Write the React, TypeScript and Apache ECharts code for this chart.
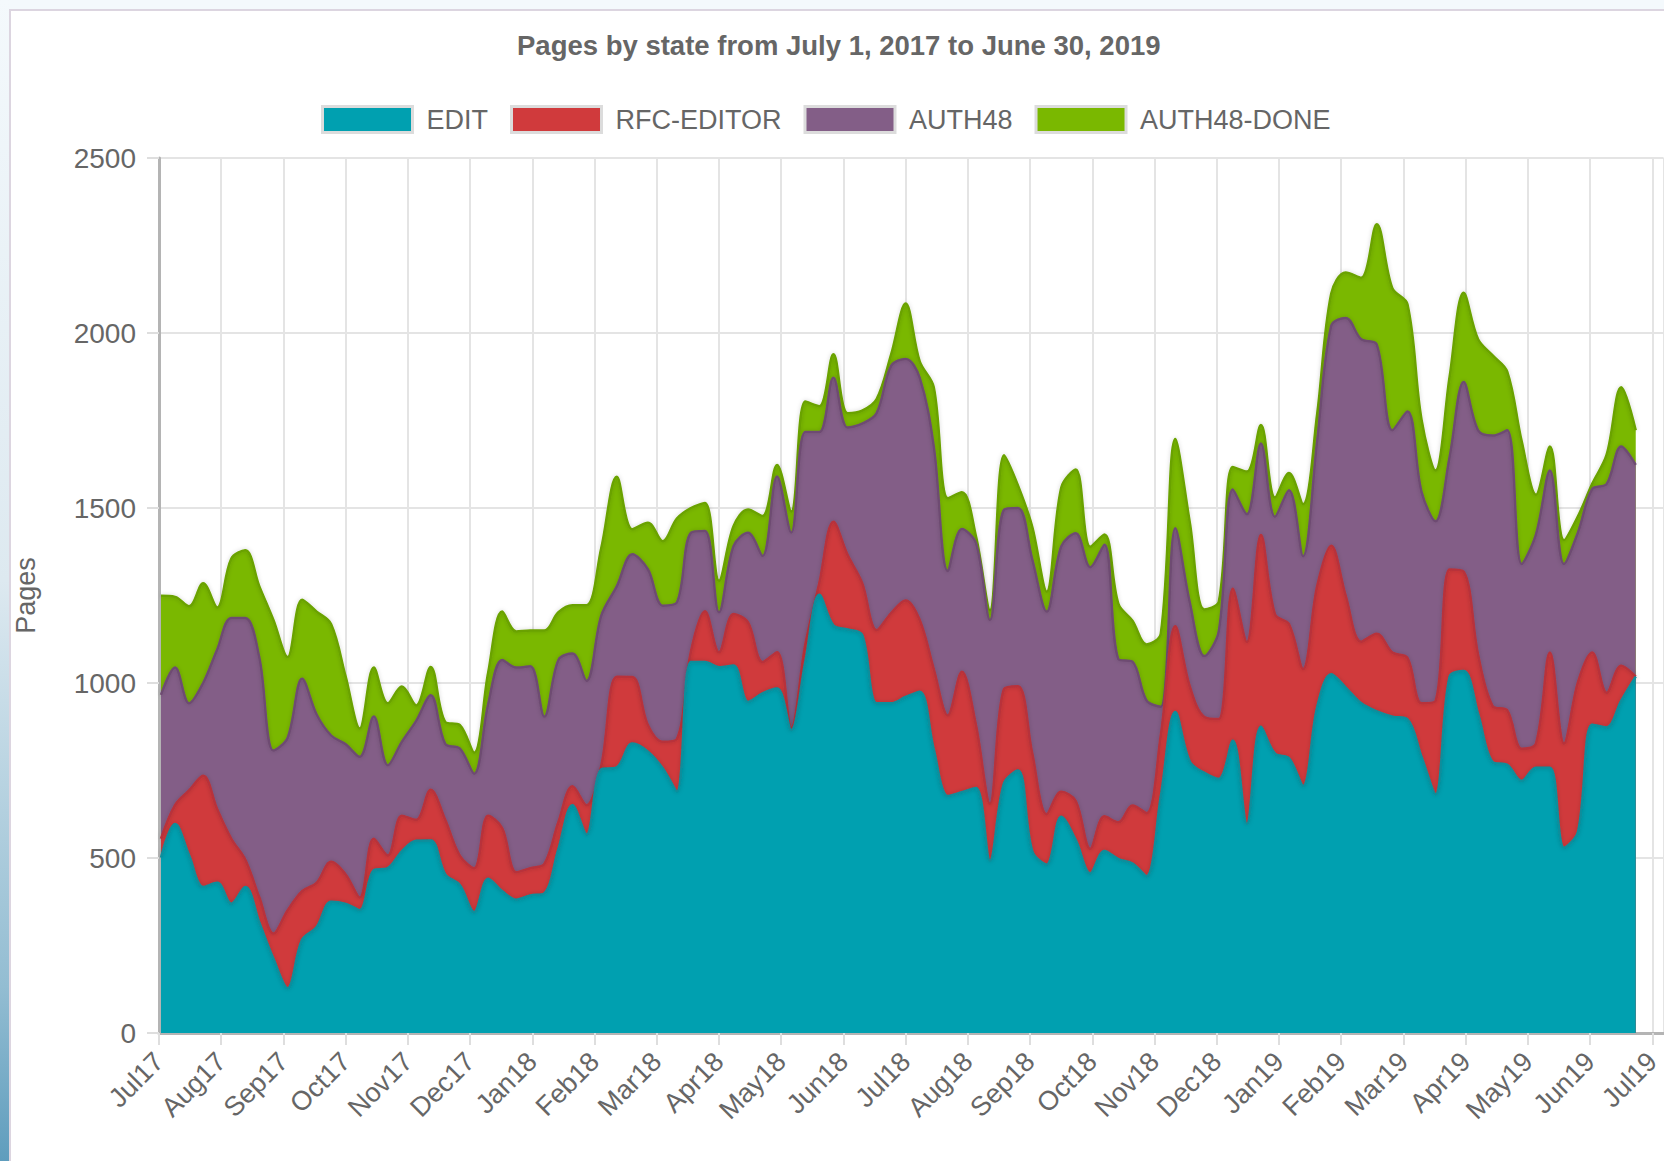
import React, { useEffect, useRef } from 'react';
import * as echarts from 'echarts';

// Month tick labels (one per month boundary)
const monthLabels = [
  'Jul17', 'Aug17', 'Sep17', 'Oct17', 'Nov17', 'Dec17', 'Jan18', 'Feb18', 'Mar18', 'Apr18', 'May18', 'Jun18',
  'Jul18', 'Aug18', 'Sep18', 'Oct18', 'Nov18', 'Dec18', 'Jan19', 'Feb19', 'Mar19', 'Apr19', 'May19', 'Jun19', 'Jul19',
];

// Weekly samples, first one on this date
const firstWeekUTC = [2017, 6, 2];

const edit = [
  501, 597, 507, 417, 429, 369, 417, 315, 212, 128,
  266, 302, 375, 369, 351, 465, 471, 519, 549, 550,
  453, 423, 345, 441, 405, 381, 393, 399, 525, 651,
  567, 753, 759, 827, 804, 756, 690, 1060, 1060, 1045,
  1050, 946, 970, 984, 865, 1060, 1252, 1164, 1153, 1137,
  942, 942, 960, 975, 810, 677, 688, 700, 492, 713,
  750, 520, 481, 618, 551, 456, 520, 497, 484, 448,
  675, 917, 775, 743, 726, 835, 597, 875, 798, 785,
  706, 930, 1025, 987, 942, 919, 904, 896, 789, 682,
  1018, 1034, 911, 774, 766, 720, 758, 758, 529, 575,
  881, 873, 949, 1018,
];

const rfcEditor = [
  54, 54, 186, 318, 210, 186, 78, 72, 72, 222,
  139, 127, 114, 84, 36, 90, 36, 102, 60, 145,
  156, 84, 126, 180, 180, 78, 78, 84, 78, 54,
  84, 10, 259, 190, 76, 76, 150, 30, 145, 43,
  147, 227, 90, 104, 7, 50, 34, 297, 213, 149,
  209, 258, 276, 205, 230, 230, 344, 180, 163, 270,
  241, 280, 144, 71, 112, 70, 99, 105, 166, 180,
  175, 245, 215, 160, 171, 434, 520, 548, 398, 383,
  334, 346, 367, 263, 176, 222, 183, 176, 153, 267,
  306, 284, 169, 160, 156, 92, 69, 329, 298, 428,
  206, 99, 100, 0,
];

const auth48 = [
  411, 393, 249, 265, 457, 631, 691, 685, 523, 493,
  607, 481, 361, 372, 402, 349, 258, 211, 283, 270,
  217, 306, 270, 319, 481, 585, 577, 421, 463, 379,
  355, 429, 258, 351, 445, 389, 390, 339, 229, 114,
  194, 256, 303, 502, 558, 607, 431, 411, 364, 455,
  620, 706, 690, 692, 636, 413, 408, 520, 525, 512,
  509, 554, 579, 701, 765, 805, 776, 466, 411, 322,
  82, 280, 240, 174, 251, 284, 365, 261, 279, 383,
  322, 415, 628, 793, 864, 826, 635, 704, 604, 513,
  322, 542, 642, 773, 800, 528, 597, 520, 513, 428,
  467, 597, 627, 605,
];

const auth48Done = [
  283, 202, 277, 285, 120, 169, 193, 204, 373, 231,
  226, 294, 318, 193, 81, 140, 177, 158, 44, 81,
  63, 67, 60, 90, 138, 103, 102, 246, 136, 138,
  216, 193, 313, 71, 133, 184, 240, 71, 80, 90,
  57, 67, 114, 33, 60, 87, 74, 67, 41, 37,
  40, 33, 158, 47, 169, 208, 105, 20, 28, 156,
  64, 93, 57, 168, 182, 58, 29, 158, 117, 160,
  209, 255, 229, 133, 84, 64, 122, 53, 55, 49,
  149, 77, 92, 130, 176, 344, 406, 306, 207, 145,
  229, 255, 260, 229, 168, 351, 114, 69, 68, 46,
  15, 84, 169, 99,
];

const seriesNames = ['EDIT', 'RFC-EDITOR', 'AUTH48', 'AUTH48-DONE'];
const fillColors = ['#00A0B0', '#D03A3C', '#835E87', '#7AB800'];
const lineColors = ['#0A8E9C', '#B8323A', '#6E4C72', '#6AA200'];

// x position of each weekly sample, in months since Jul 2017 (month ticks evenly spaced)
function weekPositions(n: number): number[] {
  const out: number[] = [];
  const start = Date.UTC(firstWeekUTC[0], firstWeekUTC[1], firstWeekUTC[2]);
  for (let i = 0; i < n; i++) {
    const d = new Date(start + i * 7 * 86400000);
    const y = d.getUTCFullYear();
    const m = d.getUTCMonth();
    const day = d.getUTCDate();
    const dim = new Date(Date.UTC(y, m + 1, 0)).getUTCDate();
    out.push((y - 2017) * 12 + (m - 6) + (day - 1) / dim);
  }
  return out;
}

const FONT = 'Helvetica Neue, Helvetica, Arial, Liberation Sans, sans-serif';

export default function App() {
  const ref = useRef<HTMLDivElement>(null);

  useEffect(() => {
    if (!ref.current) return;
    const chart = echarts.init(ref.current, undefined, { renderer: 'svg' });
    const xs = weekPositions(edit.length);
    const all = [edit, rfcEditor, auth48, auth48Done];

    // cumulative stack tops (series k drawn from its stack top down to 0; upper series drawn first)
    const cumulative: number[][] = [];
    all.forEach((arr, k) => {
      cumulative.push(arr.map((v, i) => v + (k > 0 ? cumulative[k - 1][i] : 0)));
    });

    const series = all.map((_, k) => ({
      name: seriesNames[k],
      type: 'line',
      smooth: 0.35,
      symbol: 'none',
      showSymbol: false,
      data: cumulative[k].map((v, i) => [xs[i], v]),
      itemStyle: { color: fillColors[k] },
      lineStyle: {
        color: lineColors[k],
        width: 2.5,
        shadowColor: 'rgba(0,0,0,0.18)',
        shadowBlur: 4,
      },
      areaStyle: { color: fillColors[k], opacity: 1, origin: 'start' },
      emphasis: { disabled: true },
      z: 10 - k,
    }));

    chart.setOption({
      animation: false,
      textStyle: { fontFamily: FONT },
      title: {
        text: 'Pages by state from July 1, 2017 to June 30, 2019',
        left: 517,
        top: 31,
        padding: 0,
        textStyle: { fontSize: 27.5, fontWeight: 'bold', color: '#666', fontFamily: FONT },
      },
      legend: {
        data: seriesNames,
        left: 316,
        top: 100,
        itemWidth: 90,
        itemHeight: 26,
        itemGap: 22,
        icon: 'rect',
        itemStyle: { borderColor: '#dcdcdc', borderWidth: 3 },
        textStyle: { fontSize: 27, color: '#666', fontFamily: FONT, padding: [0, 0, 0, 9] },
        selectedMode: false,
      },
      grid: { left: 159, right: 0, top: 158, bottom: 128, containLabel: false },
      xAxis: {
        type: 'value',
        min: 0,
        max: 24.18,
        interval: 1,
        axisLine: { show: true, onZero: false, lineStyle: { color: '#b4b4b4', width: 3 } },
        axisTick: { show: true, length: 12, lineStyle: { color: '#dedede', width: 2 } },
        splitLine: { show: true, lineStyle: { color: '#e4e4e4', width: 2 } },
        axisLabel: {
          rotate: 45,
          margin: 24,
          fontSize: 27,
          color: '#666',
          fontFamily: FONT,
          showMaxLabel: false,
          formatter: (v: number) => {
            const r = Math.round(v);
            return Math.abs(v - r) < 1e-6 && monthLabels[r] ? monthLabels[r] : '';
          },
        },
      },
      yAxis: {
        type: 'value',
        min: 0,
        max: 2500,
        interval: 500,
        name: 'Pages',
        nameLocation: 'middle',
        nameGap: 120,
        nameTextStyle: { fontSize: 27, color: '#666', fontFamily: FONT },
        axisLine: { show: true, lineStyle: { color: '#b4b4b4', width: 3 } },
        axisTick: { show: true, length: 12, lineStyle: { color: '#dedede', width: 2 } },
        splitLine: { show: true, lineStyle: { color: '#e4e4e4', width: 2 } },
        axisLabel: {
          fontSize: 28,
          color: '#666',
          margin: 23,
          fontFamily: FONT,
          formatter: (v: number) => String(v),
        },
      },
      graphic: [
        {
          type: 'rect',
          silent: true,
          z: -10,
          shape: { x: 0, y: 0, width: 1664, height: 9 },
          style: { fill: '#f4f9fc' },
        },
        {
          type: 'rect',
          silent: true,
          z: -10,
          shape: { x: 0, y: 0, width: 9, height: 1161 },
          style: {
            fill: new echarts.graphic.LinearGradient(0, 0, 0, 1, [
              { offset: 0, color: '#f4f9fc' },
              { offset: 0.5, color: '#dde9f0' },
              { offset: 0.85, color: '#93bdd2' },
              { offset: 1, color: '#5f9dbd' },
            ]),
          },
        },
        {
          type: 'rect',
          silent: true,
          z: -9,
          shape: { x: 10, y: 10, width: 1700, height: 1200 },
          style: { fill: 'none', stroke: '#dcd5e0', lineWidth: 2 },
        },
      ],
      series,
    });

    return () => chart.dispose();
  }, []);

  return (
    <div
      ref={ref}
      style={{ position: 'fixed', left: 0, top: 0, width: 1664, height: 1161, background: '#fff' }}
    />
  );
}
